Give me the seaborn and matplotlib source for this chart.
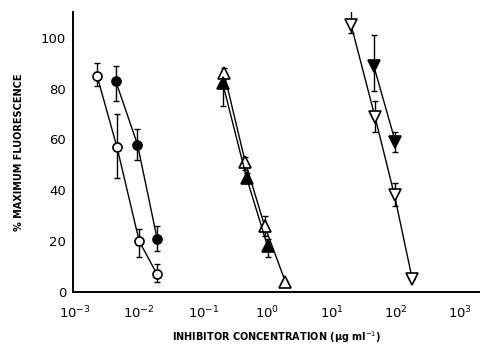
import numpy as np
import pandas as pd
import matplotlib
matplotlib.use("Agg")
import matplotlib.pyplot as plt
import seaborn as sns

# valores (conc em ug/ml, % fluorescencia, barras de erro)
circ_open_x = [0.0022, 0.0045, 0.010, 0.019]
circ_open_y = [85, 57, 20, 7]
circ_open_lo = [81, 45, 14, 4]
circ_open_hi = [90, 70, 25, 11]

circ_fill_x = [0.0043, 0.0094, 0.019]
circ_fill_y = [83, 58, 21]
circ_fill_lo = [75, 52, 16]
circ_fill_hi = [89, 64, 26]

tri_open_x = [0.21, 0.45, 0.90, 1.9]
tri_open_y = [86, 51, 26, 4]
tri_open_lo = [84, 48, 22, 4]
tri_open_hi = [88, 53, 30, 4]

tri_fill_x = [0.20, 0.47, 1.0]
tri_fill_y = [82, 45, 18]
tri_fill_lo = [73, 43, 14]
tri_fill_hi = [84, 47, 21]

inv_open_x = [20, 47, 95, 180]
inv_open_y = [105, 69, 38, 5]
inv_open_lo = [102, 63, 34, 5]
inv_open_hi = [111, 75, 43, 5]

inv_fill_x = [45, 98]
inv_fill_y = [89, 59]
inv_fill_lo = [79, 55]
inv_fill_hi = [101, 63]

series = [
    (circ_open_x, circ_open_y, circ_open_lo, circ_open_hi, 'o', 'white', 6.5),
    (circ_fill_x, circ_fill_y, circ_fill_lo, circ_fill_hi, 'o', 'black', 6.5),
    (tri_open_x, tri_open_y, tri_open_lo, tri_open_hi, '^', 'white', 8.5),
    (tri_fill_x, tri_fill_y, tri_fill_lo, tri_fill_hi, '^', 'black', 8),
    (inv_open_x, inv_open_y, inv_open_lo, inv_open_hi, 'v', 'white', 8.5),
    (inv_fill_x, inv_fill_y, inv_fill_lo, inv_fill_hi, 'v', 'black', 8),
]

#%%

sns.set_style("white")
plt.rcParams['font.family'] = ['DejaVu Sans']
plt.rcParams['text.color'] = 'black'
plt.rcParams['axes.labelcolor'] = 'black'
plt.rcParams['xtick.color'] = 'black'
plt.rcParams['ytick.color'] = 'black'

fig = plt.figure(figsize=(4.81, 3.47), dpi=100)
ax = fig.add_axes([0.152, 0.158, 0.846, 0.807])

for x, y, lo, hi, mk, fc, ms in series:
    df = pd.DataFrame({'x': x, 'y': y})
    yerr = [np.array(y) - np.array(lo), np.array(hi) - np.array(y)]
    ax.errorbar(x, y, yerr=yerr, fmt='none', ecolor='black',
                elinewidth=1.0, capsize=2.5, capthick=1.0, zorder=2)
    sns.lineplot(data=df, x='x', y='y', ax=ax, color='black', linewidth=1.0,
                 marker=mk, markersize=ms, markerfacecolor=fc,
                 markeredgecolor='black', markeredgewidth=1.2,
                 estimator=None, sort=False, zorder=3)

ax.set_xscale('log')
ax.set_xlim(10 ** -3.03, 10 ** 3.31)
ax.set_ylim(0, 110)
ax.set_xticks([1e-3, 1e-2, 1e-1, 1e0, 1e1, 1e2, 1e3])
ax.set_xticklabels([r'$10^{-3}$', r'$10^{-2}$', r'$10^{-1}$', r'$10^{0}$',
                    r'$10^{1}$', r'$10^{2}$', r'$10^{3}$'])
ax.xaxis.set_minor_locator(matplotlib.ticker.NullLocator())
ax.set_yticks([0, 20, 40, 60, 80, 100])

ax.tick_params(axis='x', direction='in', length=8, width=1.3, labelsize=9.5, pad=9)
ax.tick_params(axis='y', direction='in', length=13, width=1.3, labelsize=9.5, pad=5)

sns.despine(ax=ax)
for s in ['left', 'bottom']:
    ax.spines[s].set_linewidth(1.4)
    ax.spines[s].set_color('black')

ax.set_xlabel('INHIBITOR CONCENTRATION (μg ml$^{-1}$)', fontsize=7,
              fontweight='bold', labelpad=6)
ax.set_ylabel('% MAXIMUM FLUORESCENCE', fontsize=7, fontweight='bold',
              labelpad=12)

plt.savefig('out.png', dpi=100)
